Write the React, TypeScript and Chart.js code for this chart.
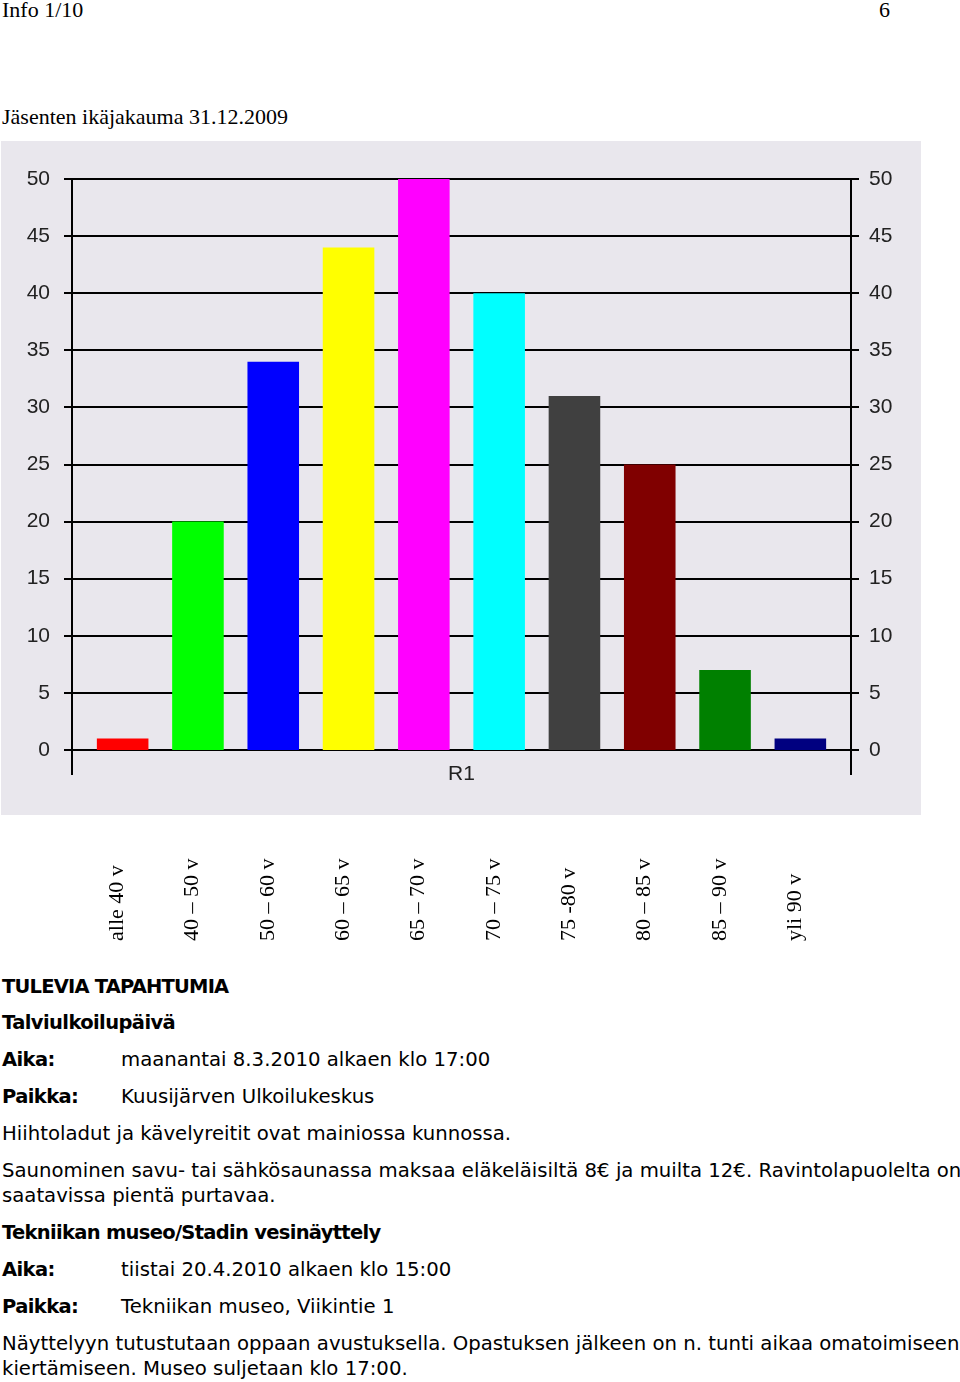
import React, { useEffect, useRef } from "react";
import { Chart, registerables } from "chart.js";

Chart.register(...registerables);

// ---- data ----
const categories = [
  "alle 40 v",
  "40 – 50 v",
  "50 – 60 v",
  "60 – 65 v",
  "65 – 70 v",
  "70 – 75 v",
  "75 -80 v",
  "80 – 85 v",
  "85 – 90 v",
  "yli 90 v",
];
const members = [1, 20, 34, 44, 50, 40, 31, 25, 7, 1];
const barColors = [
  "#ff0000",
  "#00ff00",
  "#0000ff",
  "#ffff00",
  "#ff00ff",
  "#00ffff",
  "#404040",
  "#800000",
  "#008000",
  "#000080",
];
const yTicks = [0, 5, 10, 15, 20, 25, 30, 35, 40, 45, 50];
const seriesName = "R1";

// ---- layout constants ----
const CANVAS_W = 920;
const CANVAS_H = 810;
const PANEL_H = 674;
const PANEL_BG = "#e9e7ed";
const LABEL_BASE_Y = 800;

const SANS = "'DejaVu Sans', Verdana, sans-serif";
const SERIF = "'Liberation Serif', 'Times New Roman', serif";

const framePlugin = {
  id: "frame",
  beforeDraw(chart: any) {
    const { ctx } = chart;
    ctx.save();
    ctx.fillStyle = PANEL_BG;
    ctx.fillRect(0, 0, chart.width, PANEL_H);
    ctx.restore();
  },
  beforeDatasetsDraw(chart: any) {
    const { ctx, chartArea } = chart;
    const y = chart.scales.y;
    const x = chart.scales.x;
    const axisL = chartArea.left - 13;
    const axisR = chartArea.right + 13;
    const top = Math.round(y.getPixelForValue(yTicks[yTicks.length - 1]));
    const zero = Math.round(y.getPixelForValue(0));
    ctx.save();
    ctx.strokeStyle = "#000";
    ctx.lineWidth = 2;
    ctx.beginPath();
    yTicks.forEach((v) => {
      const py = Math.round(y.getPixelForValue(v));
      ctx.moveTo(axisL - 8, py);
      ctx.lineTo(axisR + 8, py);
    });
    ctx.moveTo(axisL, top);
    ctx.lineTo(axisL, zero + 25);
    ctx.moveTo(axisR, top);
    ctx.lineTo(axisR, zero + 25);
    ctx.stroke();

    ctx.fillStyle = "#222";
    ctx.font = "21px 'Liberation Sans', Arial, sans-serif";
    ctx.textBaseline = "middle";
    yTicks.forEach((v) => {
      const py = y.getPixelForValue(v);
      ctx.textAlign = "right";
      ctx.fillText(String(v), axisL - 22, py);
      ctx.textAlign = "left";
      ctx.fillText(String(v), axisR + 18, py);
    });
    ctx.textAlign = "center";
    ctx.fillText(seriesName, (chartArea.left + chartArea.right) / 2, zero + 24);

    ctx.font = "22px " + SERIF;
    ctx.fillStyle = "#000";
    ctx.textAlign = "left";
    ctx.textBaseline = "alphabetic";
    categories.forEach((c, i) => {
      ctx.save();
      ctx.translate(x.getPixelForValue(i) + 0.5, LABEL_BASE_Y);
      ctx.rotate(-Math.PI / 2);
      ctx.fillText(c, 0, 0);
      ctx.restore();
    });
    ctx.restore();
  },
};

function AgeChart() {
  const ref = useRef<HTMLCanvasElement | null>(null);
  useEffect(() => {
    if (!ref.current) return;
    const chart = new Chart(ref.current, {
      type: "bar",
      data: {
        labels: categories,
        datasets: [
          {
            label: seriesName,
            data: members,
            backgroundColor: barColors,
            borderWidth: 0,
            barPercentage: 0.685,
            categoryPercentage: 1,
          },
        ],
      },
      options: {
        animation: false,
        responsive: false,
        devicePixelRatio: 1,
        layout: { padding: { left: 84, right: 83, top: 38, bottom: CANVAS_H - 609 } },
        plugins: { legend: { display: false }, tooltip: { enabled: false } },
        scales: {
          x: { display: false, offset: true },
          y: { display: false, min: 0, max: 50 },
        },
      },
      plugins: [framePlugin],
    });
    return () => chart.destroy();
  }, []);
  return (
    <canvas
      ref={ref}
      width={CANVAS_W}
      height={CANVAS_H}
      style={{ position: "absolute", left: 1, top: 141, width: CANVAS_W, height: CANVAS_H }}
    />
  );
}

function Line(props: {
  x: number;
  cy: number;
  size: number;
  bold?: boolean;
  family?: string;
  ls?: number;
  children: React.ReactNode;
}) {
  const { x, cy, size, bold, family, ls, children } = props;
  return (
    <div
      style={{
        position: "absolute",
        left: x,
        top: cy - size / 2,
        fontSize: size,
        lineHeight: `${size}px`,
        fontFamily: family || SANS,
        fontWeight: bold ? "bold" : "normal",
        letterSpacing: ls ? `${ls}px` : undefined,
        whiteSpace: "nowrap",
        color: "#000",
      }}
    >
      {children}
    </div>
  );
}

export default function App() {
  const S = 19.7;
  const B = 19.5;
  return (
    <div style={{ position: "absolute", left: 0, top: 0, width: 960, height: 1382, background: "#fff", overflow: "hidden" }}>
      <Line x={2} cy={10} size={22} family={SERIF}>Info 1/10</Line>
      <Line x={879} cy={10} size={22} family={SERIF}>6</Line>
      <Line x={2} cy={117} size={22} family={SERIF}>Jäsenten ikäjakauma 31.12.2009</Line>

      <AgeChart />

      <Line x={2} cy={987} size={B} bold ls={-0.8}>TULEVIA TAPAHTUMIA</Line>
      <Line x={2} cy={1023} size={B} bold ls={-0.6}>Talviulkoilupäivä</Line>
      <Line x={2} cy={1060} size={B} bold ls={-0.6}>Aika:</Line>
      <Line x={121} cy={1060} size={S}>maanantai 8.3.2010 alkaen klo 17:00</Line>
      <Line x={2} cy={1097} size={B} bold ls={-0.6}>Paikka:</Line>
      <Line x={121} cy={1097} size={S}>Kuusijärven Ulkoilukeskus</Line>
      <Line x={2} cy={1134} size={S}>Hiihtoladut ja kävelyreitit ovat mainiossa kunnossa.</Line>
      <Line x={2} cy={1171} size={S}>
        Saunominen savu- tai sähkösaunassa maksaa eläkeläisiltä 8€ ja muilta 12€. Ravintolapuolelta on
      </Line>
      <Line x={2} cy={1196} size={S}>saatavissa pientä purtavaa.</Line>
      <Line x={2} cy={1233} size={B} bold ls={-0.7}>Tekniikan museo/Stadin vesinäyttely</Line>
      <Line x={2} cy={1270} size={B} bold ls={-0.6}>Aika:</Line>
      <Line x={121} cy={1270} size={S}>tiistai 20.4.2010 alkaen klo 15:00</Line>
      <Line x={2} cy={1307} size={B} bold ls={-0.6}>Paikka:</Line>
      <Line x={121} cy={1307} size={S}>Tekniikan museo, Viikintie 1</Line>
      <Line x={2} cy={1344} size={S}>
        Näyttelyyn tutustutaan oppaan avustuksella. Opastuksen jälkeen on n. tunti aikaa omatoimiseen
      </Line>
      <Line x={2} cy={1369} size={S}>kiertämiseen. Museo suljetaan klo 17:00.</Line>
    </div>
  );
}
